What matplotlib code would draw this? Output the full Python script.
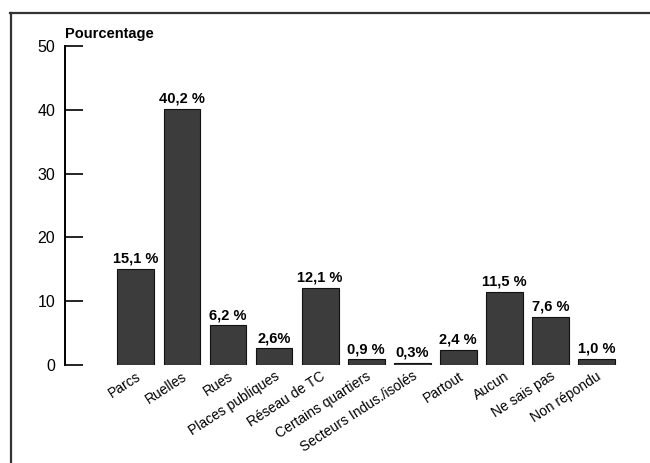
import matplotlib
matplotlib.use('agg')
import matplotlib.pyplot as plt
from matplotlib.lines import Line2D

categories = ['Parcs', 'Ruelles', 'Rues', 'Places publiques', 'Réseau de TC',
              'Certains quartiers', 'Secteurs Indus./isolés', 'Partout', 'Aucun',
              'Ne sais pas', 'Non répondu']
values = [15.1, 40.2, 6.2, 2.6, 12.1, 0.9, 0.3, 2.4, 11.5, 7.6, 1.0]
value_labels = ['15,1 %', '40,2 %', '6,2 %', '2,6%', '12,1 %', '0,9 %', '0,3%',
                '2,4 %', '11,5 %', '7,6 %', '1,0 %']
yticks = [0, 10, 20, 30, 40, 50]

plt.rcParams['font.family'] = ['Liberation Sans', 'DejaVu Sans']

fig = plt.figure(figsize=(6.5, 4.63), dpi=100)
ax = fig.add_axes([0.1, 0.2117, 0.86, 0.6889])

x = list(range(len(categories)))
ax.bar(x, values, width=0.8, color='#3c3c3c', edgecolor='#111111', linewidth=0.8)

for xi, v, lab in zip(x, values, value_labels):
    ax.text(xi, v + 0.5, lab, ha='center', va='bottom', fontsize=10.5, fontweight='bold')

ax.set_xlim(-1.54, 10.6)
ax.set_ylim(0, 50)
ax.set_yticks(yticks)
ax.set_yticklabels([str(t) for t in yticks], fontsize=11.5)
ax.tick_params(axis='y', direction='in', length=13, width=1.2, pad=7)
ax.set_xticks(x)
ax.set_xticklabels(categories, rotation=33, ha='right', rotation_mode='anchor', fontsize=10)
ax.tick_params(axis='x', length=0, pad=3)

for s in ['top', 'right', 'bottom']:
    ax.spines[s].set_visible(False)
ax.spines['left'].set_linewidth(1.4)

ax.text(0.0, 1.015, 'Pourcentage', transform=ax.transAxes, ha='left', va='bottom',
        fontsize=10.5, fontweight='bold')

# frame lines at the top and left of the figure
fig.add_artist(Line2D([10 / 650, 1], [1 - 12.5 / 463, 1 - 12.5 / 463], color='#333333', lw=1.6))
fig.add_artist(Line2D([10.5 / 650, 10.5 / 650], [0, 1 - 12.5 / 463], color='#333333', lw=1.6))

fig.savefig('out.png', dpi=100)
